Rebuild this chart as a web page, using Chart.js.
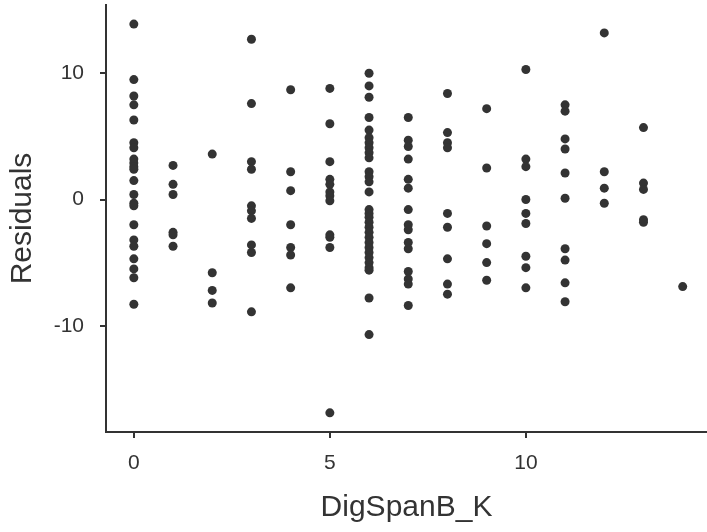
<!DOCTYPE html>
<html>
<head>
<meta charset="utf-8">
<script src="https://cdn.jsdelivr.net/npm/chart.js@4"></script>
<style>
    html, body { margin: 0; padding: 0; background: #fff; }
</style>
</head>
<body>
<canvas id="residualPlot" width="707" height="532"></canvas>
<script>
// residuals, one array per DigSpanB_K value
const res0 = [13.9, 9.5, 8.2, 7.5, 6.3, 4.5, 4.1, 3.2, 2.9, 2.6, 2.4, 1.5, 0.4, -0.3, -0.5, -2.0, -3.2, -3.7, -4.7, -5.5, -6.2, -8.3];
const res1 = [2.7, 1.2, 0.4, -2.6, -2.8, -3.7];
const res2 = [3.6, -5.8, -7.2, -8.2];
const res3 = [12.7, 7.6, 3.0, 2.4, -0.5, -0.9, -1.5, -3.6, -4.2, -8.9];
const res4 = [8.7, 2.2, 0.7, -2.0, -3.8, -4.4, -7.0];
const res5 = [8.8, 6.0, 3.0, 1.6, 1.2, 0.6, 0.3, -0.1, -2.8, -3.0, -3.8, -16.9];
const res6 = [10.0, 9.0, 8.1, 6.5, 5.5, 4.9, 4.5, 4.1, 3.7, 3.3, 2.2, 1.8, 1.4, 0.6, -0.8, -1.1, -1.4, -1.8, -2.2, -2.6, -3.0, -3.4, -3.8, -4.2, -4.6, -5.0, -5.4, -5.6, -7.8, -10.7];
const res7 = [6.5, 4.7, 4.2, 3.2, 1.6, 0.9, -0.8, -2.0, -2.4, -3.4, -3.9, -5.7, -6.3, -6.7, -8.4];
const res8 = [8.4, 5.3, 4.5, 4.1, -1.1, -2.2, -4.7, -6.7, -7.5];
const res9 = [7.2, 2.5, -2.1, -3.5, -5.0, -6.4];
const res10 = [10.3, 3.2, 2.6, 0.0, -1.1, -1.9, -4.5, -5.4, -7.0];
const res11 = [7.5, 7.0, 4.8, 4.0, 2.1, 0.1, -3.9, -4.8, -6.6, -8.1];
const res12 = [13.2, 2.2, 0.9, -0.3];
const res13 = [5.7, 1.3, 0.8, -1.6, -1.8];
const res14 = [-6.9];

const digSpanValues = [0, 1, 2, 3, 4, 5, 6, 7, 8, 9, 10, 11, 12, 13, 14];
const residualGroups = [res0, res1, res2, res3, res4, res5, res6, res7, res8, res9, res10, res11, res12, res13, res14];

const xTicks = [0, 5, 10];
const yTicks = [-10, 0, 10];

const FONT = '"Liberation Sans", Arial, Helvetica, sans-serif';
const INK = '#333333';

// flatten into {x, y} points
const points = [];
digSpanValues.forEach((k, i) => {
    residualGroups[i].forEach(r => points.push({ x: k, y: r }));
});

function axisStyle() {
    return {
        grid: { drawOnChartArea: false, drawTicks: true, tickLength: 6, lineWidth: 2, tickWidth: 2, color: INK, tickColor: INK },
        border: { display: true, color: INK, width: 2 }
    };
}

// drop the label overhang padding so the plot area fills the frame like the original
function noOverhang(s) {
    s.paddingTop = 0;
    s.paddingBottom = 0;
    s.paddingLeft = 0;
    s.paddingRight = 0;
}

new Chart(document.getElementById('residualPlot'), {
    type: 'scatter',
    data: {
        datasets: [{
            data: points,
            backgroundColor: INK,
            borderWidth: 0,
            pointRadius: 4.5,
            pointHoverRadius: 4.5
        }]
    },
    options: {
        responsive: false,
        animation: false,
        layout: { autoPadding: false, padding: { top: 5, right: 0, bottom: 0, left: 0 } },
        plugins: {
            legend: { display: false },
            tooltip: { enabled: false }
        },
        scales: {
            x: {
                type: 'linear',
                min: -0.71,
                max: 14.62,
                afterBuildTicks: s => { s.ticks = xTicks.map(v => ({ value: v })); },
                afterFit: s => { s.height = 100; noOverhang(s); },
                ...axisStyle(),
                ticks: { color: INK, font: { family: FONT, size: 21 }, padding: 13 },
                title: { display: true, text: 'DigSpanB_K', color: INK, font: { family: FONT, size: 30 }, padding: { top: 0, bottom: 6 } }
            },
            y: {
                type: 'linear',
                min: -18.42,
                max: 15.41,
                afterBuildTicks: s => { s.ticks = yTicks.map(v => ({ value: v })); },
                afterFit: s => { s.width = 106; noOverhang(s); },
                ...axisStyle(),
                ticks: { color: INK, font: { family: FONT, size: 21 }, padding: 16 },
                title: { display: true, text: 'Residuals', color: INK, font: { family: FONT, size: 30 }, padding: { top: 5, bottom: 0 } }
            }
        }
    }
});
</script>
</body>
</html>
